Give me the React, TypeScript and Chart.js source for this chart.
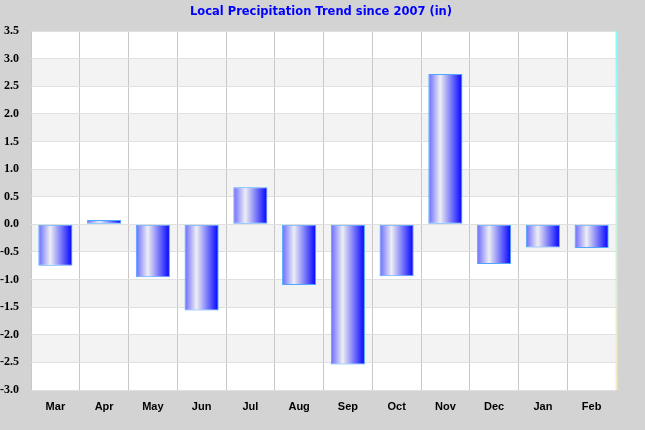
import React, { useEffect, useRef } from "react";
import { Chart, registerables } from "chart.js";

Chart.register(...registerables);

const categories = ["Mar", "Apr", "May", "Jun", "Jul", "Aug", "Sep", "Oct", "Nov", "Dec", "Jan", "Feb"];
const values = [-0.75, 0.08, -0.96, -1.56, 0.67, -1.1, -2.54, -0.94, 2.72, -0.72, -0.42, -0.43];
const yMin = -3.0;
const yMax = 3.5;
const yStep = 0.5;
const titleText = "Local Precipitation Trend since 2007 (in)";

const BAR_PCT = 0.7;

const decorPlugin = {
  id: "decor",
  beforeDraw(chart: any) {
    const { ctx, chartArea, scales } = chart;
    ctx.save();
    ctx.fillStyle = "#d3d3d3";
    ctx.fillRect(0, 0, chart.width, chart.height);
    ctx.fillStyle = "#ffffff";
    ctx.fillRect(chartArea.left, chartArea.top, chartArea.right - chartArea.left, chartArea.bottom - chartArea.top);
    const y = scales.y;
    let i = 0;
    for (let v = yMin; v < yMax - 1e-9; v += yStep, i++) {
      if (i % 2 === 1) {
        const y1 = y.getPixelForValue(v);
        const y2 = y.getPixelForValue(v + yStep);
        ctx.fillStyle = "#f3f3f3";
        ctx.fillRect(chartArea.left, y2, chartArea.right - chartArea.left, y1 - y2);
      }
    }
    ctx.fillStyle = "#0000ff";
    ctx.font = "bold 11.5px 'DejaVu Sans'";
    ctx.textAlign = "center";
    ctx.textBaseline = "middle";
    ctx.fillText(titleText, 321, 12);
    ctx.restore();
  },
  afterDraw(chart: any) {
    const { ctx, chartArea } = chart;
    ctx.save();
    const g = ctx.createLinearGradient(0, chartArea.top, 0, chartArea.bottom);
    g.addColorStop(0, "#80ffff");
    g.addColorStop(1, "#ffe8c0");
    ctx.strokeStyle = g;
    ctx.lineWidth = 2;
    ctx.beginPath();
    ctx.moveTo(chartArea.right + 0.5, chartArea.top);
    ctx.lineTo(chartArea.right + 0.5, chartArea.bottom);
    ctx.stroke();
    ctx.restore();
  },
};

function barFill(context: any) {
  const chart = context.chart;
  const xs = chart.scales?.x;
  if (!xs || context.dataIndex === undefined) return "#4040ff";
  const cx = xs.getPixelForValue(context.dataIndex);
  const cw = (xs.right - xs.left) / categories.length;
  const w = cw * BAR_PCT;
  const x0 = cx - w / 2;
  if (!isFinite(x0) || !isFinite(w) || w <= 0) return "#4040ff";
  const g = chart.ctx.createLinearGradient(x0, 0, x0 + w, 0);
  g.addColorStop(0, "#6868ff");
  g.addColorStop(0.35, "#eeeef4");
  g.addColorStop(1, "#0000ff");
  return g;
}

export default function App() {
  const ref = useRef<HTMLCanvasElement>(null);
  useEffect(() => {
    document.body.style.margin = "0";
    const canvas = ref.current!;
    const chart = new Chart(canvas, {
      type: "bar",
      data: {
        labels: categories,
        datasets: [
          {
            data: values,
            backgroundColor: barFill,
            borderColor: "#4da6ff",
            borderWidth: 1,
            borderSkipped: false,
            categoryPercentage: 1,
            barPercentage: BAR_PCT,
          },
        ],
      },
      options: {
        responsive: false,
        animation: false,
        devicePixelRatio: 1,
        layout: { padding: { left: 0, right: 29, top: 31, bottom: 0 } },
        plugins: { legend: { display: false }, title: { display: false }, tooltip: { enabled: false } },
        scales: {
          x: {
            grid: { color: "#c8c8c8", drawTicks: false, offset: true },
            border: { display: false },
            ticks: {
              color: "#000000",
              font: { family: "'Liberation Sans', Arial", weight: "bold", size: 11 },
              padding: 10,
            },
            afterFit(scale: any) {
              scale.height = 40;
            },
          },
          y: {
            min: yMin,
            max: yMax,
            grid: { color: "#e0e0e0", drawTicks: false },
            border: { display: false },
            ticks: {
              stepSize: yStep,
              color: "#000000",
              font: { family: "'Liberation Serif', serif", weight: "bold", size: 12 },
              padding: 12,
              callback: (v: any) => Number(v).toFixed(1),
            },
            afterFit(scale: any) {
              scale.width = 31;
            },
          },
        },
      },
      plugins: [decorPlugin],
    });
    return () => chart.destroy();
  }, []);
  return (
    <div style={{ width: 645, height: 430 }}>
      <canvas ref={ref} width={645} height={430} style={{ display: "block" }} />
    </div>
  );
}
